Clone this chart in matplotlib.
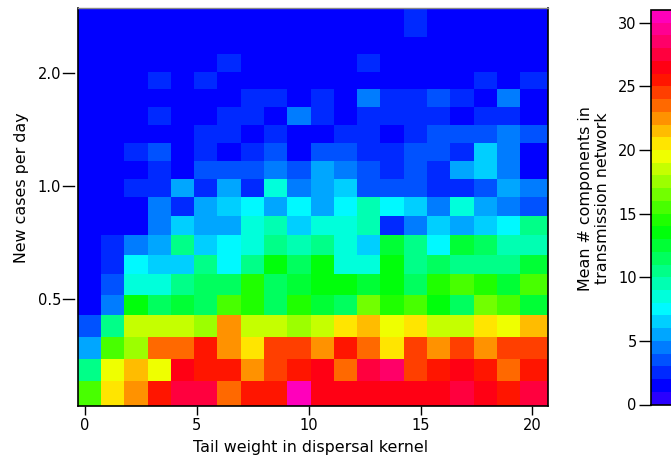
import colorsys
import matplotlib
matplotlib.use("Agg")
import matplotlib.pyplot as plt
from matplotlib.colors import ListedColormap, BoundaryNorm
import numpy as np

# cell edges on both axes
x_edges = [-0.31, 0.73, 1.77, 2.81, 3.85, 4.89, 5.93, 6.97, 8.01, 9.05, 10.09,
           11.13, 12.17, 13.21, 14.25, 15.29, 16.33, 17.37, 18.41, 19.45, 20.67]
y_edges = [0.261, 0.303, 0.348, 0.398, 0.454, 0.515, 0.583, 0.657, 0.742, 0.835, 0.937,
           1.046, 1.168, 1.304, 1.455, 1.624, 1.81, 2.01, 2.238, 2.49, 2.965]

# mean components, bottom row first
row01 = [15, 20, 22, 25, 27, 27, 23, 25, 25, 30, 26, 26, 26, 26, 26, 26, 27, 26, 25, 27]
row02 = [10, 19, 21, 19, 26, 25, 25, 22, 24, 25, 26, 23, 27, 28, 24, 25, 26, 25, 23, 25]
row03 = [5, 15, 17, 23, 23, 25, 22, 20, 24, 24, 22, 25, 23, 20, 24, 22, 24, 22, 24, 24]
row04 = [3, 10, 18, 18, 18, 17, 22, 18, 18, 17, 18, 20, 21, 19, 20, 18, 18, 20, 19, 21]
row05 = [1, 4, 13, 11, 12, 11, 15, 14, 11, 14, 12, 11, 16, 14, 15, 13, 11, 16, 15, 12]
row06 = [1, 3, 8, 8, 10, 11, 11, 14, 11, 12, 13, 13, 12, 13, 11, 14, 15, 14, 12, 15]
row07 = [1, 2, 7, 6, 6, 10, 7, 10, 13, 11, 13, 8, 8, 13, 10, 11, 10, 10, 10, 12]
row08 = [1, 2, 4, 5, 10, 6, 7, 8, 10, 9, 10, 8, 6, 12, 10, 7, 12, 11, 9, 9]
row09 = [1, 1, 1, 4, 6, 5, 5, 8, 9, 6, 8, 8, 9, 2, 4, 6, 5, 6, 7, 10]
row10 = [1, 1, 1, 4, 2, 5, 6, 7, 5, 7, 5, 7, 9, 7, 6, 4, 8, 5, 4, 3]
row11 = [1, 1, 2, 2, 5, 2, 5, 2, 8, 4, 5, 6, 3, 3, 3, 2, 2, 3, 5, 4]
row12 = [1, 1, 1, 2, 1, 3, 3, 3, 4, 3, 5, 4, 3, 2, 3, 2, 5, 6, 4, 1]
row13 = [1, 1, 2, 3, 1, 2, 1, 2, 3, 1, 3, 3, 2, 2, 3, 3, 2, 6, 4, 1]
row14 = [1, 1, 1, 1, 1, 2, 2, 1, 2, 1, 1, 2, 2, 1, 2, 3, 3, 3, 4, 3]
row15 = [1, 1, 1, 2, 1, 1, 2, 2, 1, 4, 2, 1, 2, 2, 2, 2, 1, 2, 2, 1]
row16 = [1, 1, 1, 1, 1, 1, 1, 2, 2, 1, 2, 1, 4, 2, 2, 3, 2, 1, 4, 1]
row17 = [1, 1, 1, 2, 1, 2, 1, 1, 1, 1, 1, 1, 1, 1, 1, 1, 1, 2, 1, 2]
row18 = [1, 1, 1, 1, 1, 1, 2, 1, 1, 1, 1, 1, 2, 1, 1, 1, 1, 1, 1, 1]
row19 = [1, 1, 1, 1, 1, 1, 1, 1, 1, 1, 1, 1, 1, 1, 1, 1, 1, 1, 1, 1]
row20 = [1, 1, 1, 1, 1, 1, 1, 1, 1, 1, 1, 1, 1, 1, 2, 1, 1, 1, 1, 1]

levels = list(range(0, 32))
x_ticks = [0, 5, 10, 15, 20]
y_ticks = [0.5, 1.0, 2.0]
y_ticklabels = ["0.5", "1.0", "2.0"]
bar_ticks = [0, 5, 10, 15, 20, 25, 30]

grid = np.array([row01, row02, row03, row04, row05, row06, row07, row08, row09, row10,
                 row11, row12, row13, row14, row15, row16, row17, row18, row19, row20])

# R style rainbow, runs from violet through red round to magenta
colors = [colorsys.hsv_to_rgb(((250 - 9.8 * i) % 360) / 360, 1, 1) for i in range(31)]
cmap = ListedColormap(colors)
norm = BoundaryNorm(levels, cmap.N)

W, H = 671, 459
fig = plt.figure(figsize=(W / 100, H / 100), dpi=100)

ax = fig.add_axes([77.7 / W, 1 - 405.7 / H, 469.8 / W, 397.4 / H])
mesh = ax.pcolormesh(x_edges, y_edges, grid, cmap=cmap, norm=norm)
ax.set_yscale("log")
ax.set_xlim(x_edges[0], x_edges[-1])
ax.set_ylim(y_edges[0], y_edges[-1])
ax.set_xticks(x_ticks)
ax.set_yticks(y_ticks)
ax.set_yticklabels(y_ticklabels)
ax.minorticks_off()
ax.tick_params(axis="x", length=6.5, width=1, labelsize=10.5, pad=2)
ax.tick_params(axis="y", length=0, labelsize=10.5, pad=12)
ax.set_xlabel("Tail weight in dispersal kernel", fontsize=11.4)
ax.xaxis.set_label_coords(0.495, -0.087, transform=ax.transAxes)
ax.set_ylabel("New cases per day", fontsize=11.4)
ax.yaxis.set_label_coords(-0.104, 0.548)

# y ticks stand a little off the axis line
for y in y_ticks:
    ax.plot([-0.0313, -0.0079], [y, y], color="black", lw=1,
            transform=ax.get_yaxis_transform(), clip_on=False)

for s in ax.spines.values():
    s.set_linewidth(1.2)
ax.spines["top"].set_color("#888888")
ax.spines["top"].set_linewidth(1)

# bar runs off the right edge of the picture
cax = fig.add_axes([650.5 / W, 1 - 404.5 / H, 60 / W, 394.5 / H])
cb = fig.colorbar(mesh, cax=cax, ticks=bar_ticks, spacing="proportional", drawedges=False)
cb.minorticks_off()
cax.yaxis.set_ticks_position("left")
cax.yaxis.set_label_position("left")
cax.tick_params(length=8.3, width=1, labelsize=10.5, pad=1.6)
cb.set_label("Mean # components in\ntransmission network", fontsize=11.4)
cax.yaxis.set_label_coords(-0.675, 0.523)
cb.outline.set_linewidth(1.2)

fig.savefig("out.png", dpi=100)
